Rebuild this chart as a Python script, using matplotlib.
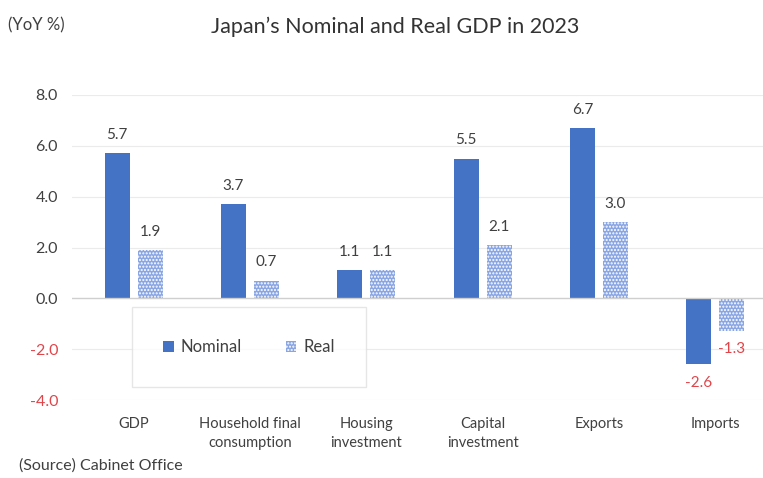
import matplotlib
matplotlib.use("Agg")
import matplotlib.pyplot as plt
import numpy as np
from matplotlib.patches import Patch

categories = ["GDP", "Household final\nconsumption", "Housing\ninvestment",
              "Capital\ninvestment", "Exports", "Imports"]
nominal = [5.7, 3.7, 1.1, 5.5, 6.7, -2.6]
real = [1.9, 0.7, 1.1, 2.1, 3.0, -1.3]
yticks = [-4.0, -2.0, 0.0, 2.0, 4.0, 6.0, 8.0]

plt.rcParams['font.family'] = ['Lato', 'DejaVu Sans']
plt.rcParams['hatch.linewidth'] = 1.0

W, H = 763, 478
fig = plt.figure(figsize=(W/100, H/100), dpi=100)
ax = fig.add_axes([72/W, 1-400/H, (763-72)/W, (400-95)/H])

x = np.arange(len(categories))
bw = 0.215
off = 0.142
nom_c = '#4472C4'
real_c = '#89A5E4'
neg_c = '#E0454A'
txt_c = '#404040'

ax.bar(x-off, nominal, bw, color=nom_c, zorder=3)
ax.bar(x+off, real, bw, color=real_c, hatch='.....', edgecolor='white', linewidth=0, zorder=3)

ax.set_ylim(-4, 8)
ax.set_xlim(-0.53, 5.41)
ax.set_yticks(yticks)
ax.set_yticklabels([f"{v:.1f}" for v in yticks], fontsize=11.5)
for lbl, v in zip(ax.get_yticklabels(), yticks):
    lbl.set_color(neg_c if v < 0 else txt_c)
ax.tick_params(axis='y', length=0, pad=10)
ax.set_xticks(x)
ax.set_xticklabels(categories, fontsize=10.5, color=txt_c, linespacing=1.45)
ax.tick_params(axis='x', length=0, pad=12)

for v in yticks:
    if v != 0:
        ax.axhline(v, color='#ebebeb', lw=0.8, zorder=1)
ax.axhline(0, color='#cfcfcf', lw=1.0, zorder=4)
for s in ax.spines.values():
    s.set_visible(False)

def label(xs, vals):
    for xi, v in zip(xs, vals):
        if v >= 0:
            ax.annotate(f"{v:.1f}", (xi, v), xytext=(0, 8), textcoords='offset points',
                        ha='center', va='bottom', fontsize=11, color=txt_c)
        else:
            ax.annotate(f"{v:.1f}", (xi, v), xytext=(0, -8), textcoords='offset points',
                        ha='center', va='top', fontsize=11, color=neg_c)

label(x-off, nominal)
label(x+off, real)

handles = [Patch(facecolor=nom_c, label='Nominal'),
           Patch(facecolor=real_c, hatch='.....', edgecolor='white', linewidth=0, label='Real')]
leg = fig.legend(handles=handles, loc='center', bbox_to_anchor=(249/W, 1-347/H),
                 ncol=2, frameon=True, fontsize=12, handlelength=0.65, handleheight=0.65,
                 columnspacing=2.6, handletextpad=0.4, borderpad=1.9, fancybox=False,
                 labelcolor=txt_c)
leg.get_frame().set_edgecolor('#e0e0e0')
leg.get_frame().set_linewidth(1.0)

fig.text(395/W, 1-27/H, "Japan\u2019s Nominal and Real GDP in 2023", ha='center', va='center',
         fontsize=15.5, color='#333333')
fig.text(8/W, 1-25/H, "(YoY %)", ha='left', va='center', fontsize=12, color=txt_c)
fig.text(19/W, 1-466/H, "(Source) Cabinet Office", ha='left', va='center', fontsize=11.5, color=txt_c)

fig.savefig("out.png", dpi=100, facecolor='white')
